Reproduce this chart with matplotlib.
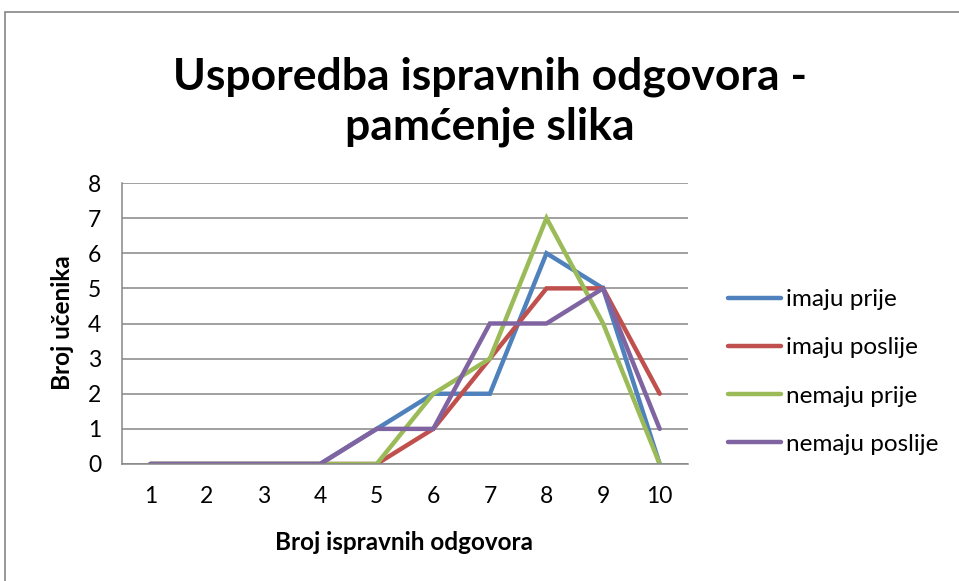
import matplotlib
matplotlib.use("Agg")
import matplotlib.pyplot as plt
from matplotlib.patches import Rectangle

# podaci
odgovori = [1, 2, 3, 4, 5, 6, 7, 8, 9, 10]
imaju_prije = [0, 0, 0, 0, 1, 2, 2, 6, 5, 0]
imaju_poslije = [0, 0, 0, 0, 0, 1, 3, 5, 5, 2]
nemaju_prije = [0, 0, 0, 0, 0, 2, 3, 7, 4, 0]
nemaju_poslije = [0, 0, 0, 0, 1, 1, 4, 4, 5, 1]
nazivi = ["imaju prije", "imaju poslije", "nemaju prije", "nemaju poslije"]
boje = ["#4F81BD", "#C0504D", "#9BBB59", "#8064A2"]

W, H = 959, 581
plt.rcParams["font.family"] = ["Lato", "DejaVu Sans"]

fig = plt.figure(figsize=(W / 100, H / 100), dpi=100)

# okvir grafikona
fig.patches.append(Rectangle((5 / W, -0.1), 1.1, 1 - 12 / H + 0.1, transform=fig.transFigure,
                             fill=False, edgecolor="#868686", linewidth=1.2))

ax = fig.add_axes([122 / W, 1 - 464 / H, (688 - 122) / W, (464 - 183) / H])

for serija, naziv, boja in zip([imaju_prije, imaju_poslije, nemaju_prije, nemaju_poslije], nazivi, boje):
    ax.plot(odgovori, serija, color=boja, linewidth=3.2, label=naziv, solid_capstyle="round",
            solid_joinstyle="miter")

ax.set_xlim(0.5, 10.5)
ax.set_ylim(0, 8)
ax.set_xticks(odgovori)
ax.set_yticks(range(0, 9))
ax.tick_params(length=0, labelsize=16.5)
ax.tick_params(axis="x", pad=16)
ax.tick_params(axis="y", pad=15)
ax.grid(axis="y", color="#868686", linewidth=1.1)
ax.set_axisbelow(True)
for s in ["top", "right"]:
    ax.spines[s].set_visible(False)
for s in ["left", "bottom"]:
    ax.spines[s].set_color("#868686")
    ax.spines[s].set_linewidth(1.1)

fig.text(490 / W, 1 - 102 / H, "Usporedba ispravnih odgovora -\npamćenje slika", ha="center",
         va="center", fontsize=32, fontweight="bold", linespacing=1.3)
fig.text(404 / W, 1 - 543 / H, "Broj ispravnih odgovora", ha="center", va="center",
         fontsize=17.5, fontweight="bold")
fig.text(62 / W, 1 - 323 / H, "Broj učenika", ha="center", va="center", rotation=90,
         fontsize=17.5, fontweight="bold")

fig.legend(loc="center left", bbox_to_anchor=(706 / W, 1 - 372 / H), frameon=False, fontsize=17.5,
           handlelength=2.2, handletextpad=0.2, labelspacing=1.12)

fig.savefig("out.png", dpi=100)
